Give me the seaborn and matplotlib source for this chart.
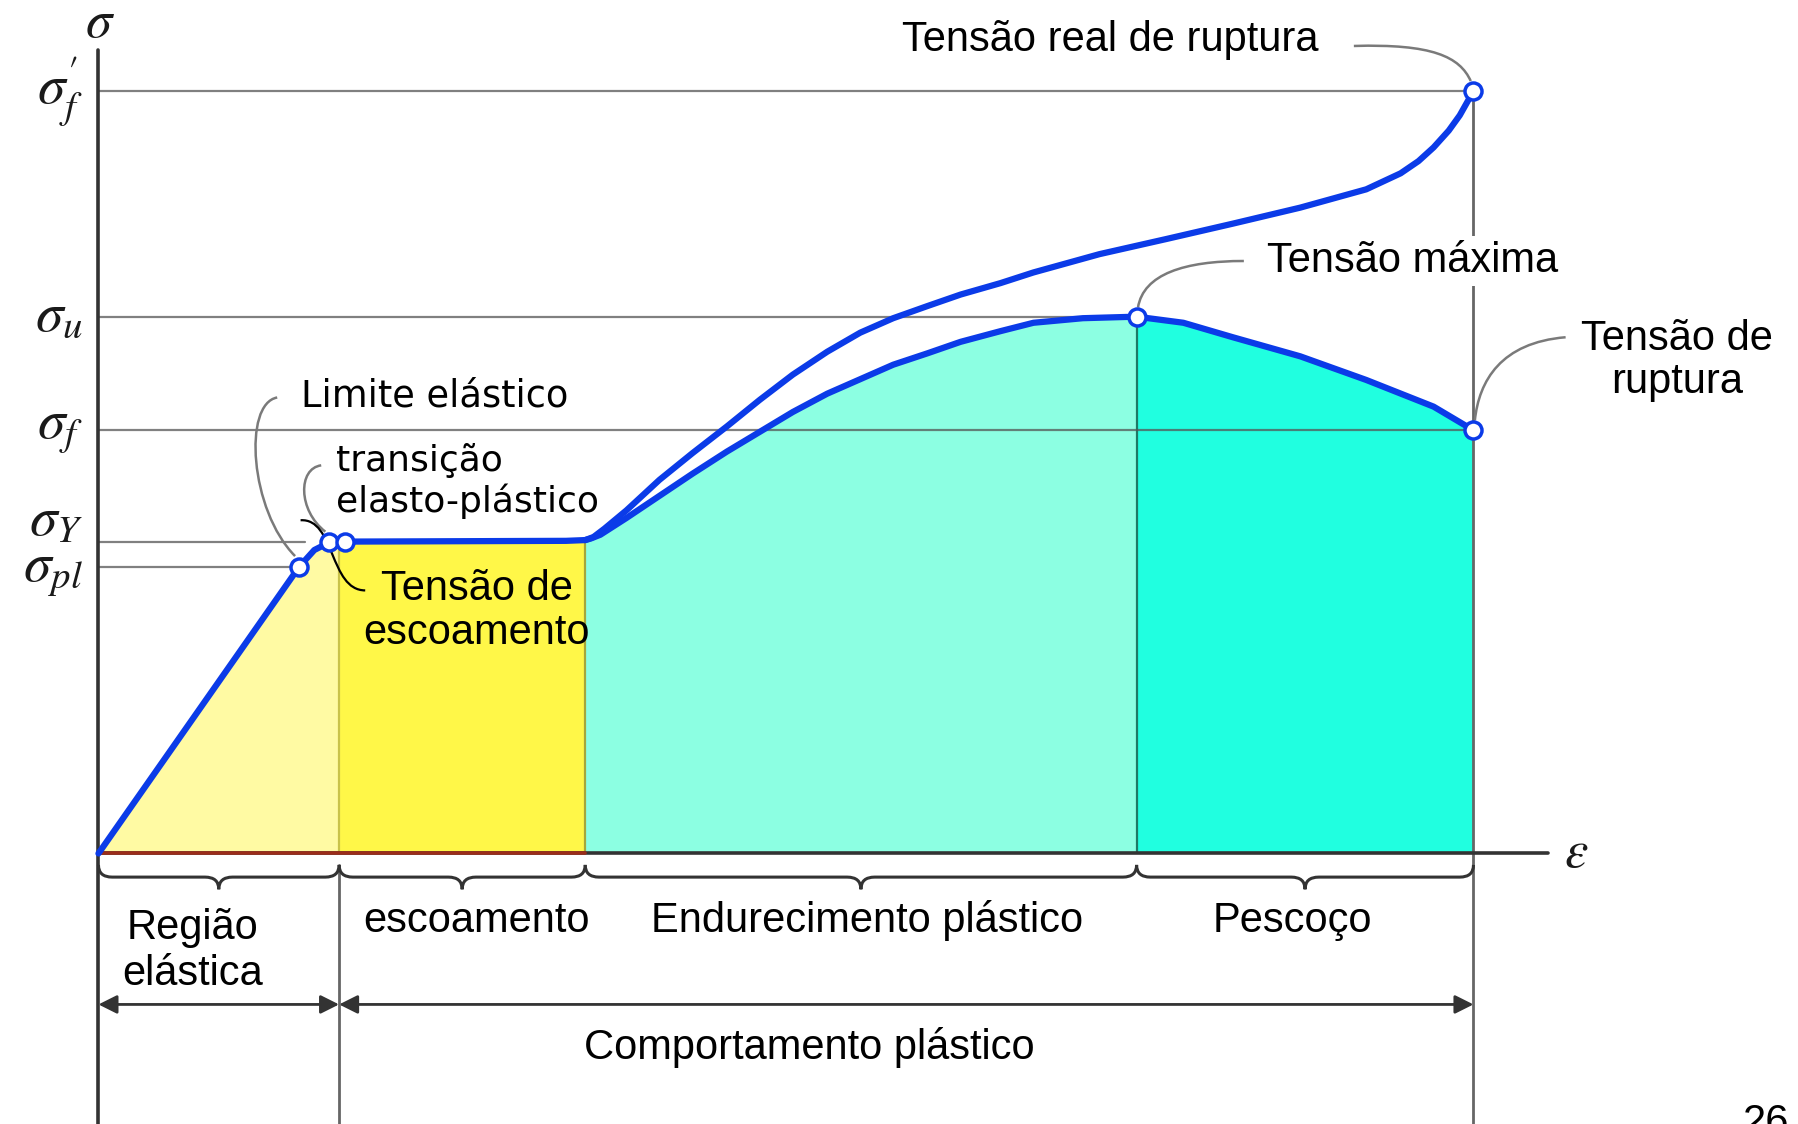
import matplotlib
matplotlib.use("Agg")
from matplotlib import pyplot as plt
from matplotlib.path import Path
from matplotlib.patches import PathPatch
import seaborn as sns

# Engineering stress-strain curve (normalized units)
strain_eng = [0.0, 0.146, 0.157, 0.168, 0.175, 0.179, 0.340, 0.354, 0.358, 0.365, 0.384,
              0.408, 0.432, 0.457, 0.481, 0.505, 0.530, 0.554, 0.578, 0.603, 0.627,
              0.656, 0.680, 0.716, 0.755, 0.789, 0.825, 0.874, 0.922, 0.971, 1.0]
stress_eng = [0.0, 0.376, 0.398, 0.408, 0.409, 0.409, 0.410, 0.411, 0.413, 0.418, 0.440,
              0.469, 0.498, 0.527, 0.553, 0.579, 0.603, 0.622, 0.641, 0.656, 0.671,
              0.685, 0.696, 0.702, 0.704, 0.696, 0.677, 0.652, 0.621, 0.586, 0.555]

# True stress-strain curve (leaves the engineering curve at end of the plateau)
strain_true = [0.354, 0.360, 0.368, 0.384, 0.408, 0.432, 0.457, 0.481, 0.505, 0.530, 0.554,
               0.578, 0.603, 0.627, 0.656, 0.680, 0.728, 0.777, 0.825, 0.874, 0.922,
               0.947, 0.960, 0.971, 0.982, 0.990, 0.995, 1.0]
stress_true = [0.411, 0.415, 0.426, 0.450, 0.490, 0.525, 0.560, 0.595, 0.628, 0.658, 0.683,
               0.702, 0.718, 0.733, 0.748, 0.762, 0.786, 0.806, 0.826, 0.847, 0.871,
               0.892, 0.908, 0.926, 0.948, 0.968, 0.984, 1.0]

# Marked points: proportional limit, elasto-plastic transition, yield,
# ultimate, fracture, true fracture
point_strain = [0.146, 0.168, 0.179, 0.755, 1.0, 1.0]
point_stress = [0.376, 0.408, 0.409, 0.704, 0.555, 1.0]

# Characteristic stress levels on the vertical axis
level_names = [r"$\sigma_{f}^{\prime}$", r"$\sigma_u$", r"$\sigma_f$", r"$\sigma_Y$", r"$\sigma_{pl}$"]
level_values = [1.0, 0.704, 0.555, 0.409, 0.376]
level_ends = [1.0, 0.755, 1.0, 0.15, 0.146]

# Regions along the strain axis
region_edges = [0.0, 0.175, 0.354, 0.755, 1.0]
region_names = ["Região\nelástica", "escoamento", "Endurecimento plástico", "Pescoço"]
behaviour_names = ["", "Comportamento plástico"]

sns.set_theme(style="white")
plt.rcParams["font.family"] = ["Liberation Sans", "DejaVu Sans"]
plt.rcParams["mathtext.fontset"] = "stix"
plt.rcParams["text.color"] = "black"

fig = plt.figure(figsize=(17.98, 11.24), dpi=100)
ax = fig.add_axes([0, 0, 1, 1])
ax.set_xlim(-0.0716, 1.236)
ax.set_ylim(-0.3548, 1.1193)
ax.axis("off")

BLUE = "#0b3be8"
GRAY = "#7a7a7a"
region_colors = ["#fffaa3", "#fff748", "#8cffe2", "#20ffe0"]

# coloured areas under the engineering curve
for (a, b), c in zip(zip(region_edges[:-1], region_edges[1:]), region_colors):
    xs = [x for x in strain_eng if a <= x <= b]
    ys = [y for x, y in zip(strain_eng, stress_eng) if a <= x <= b]
    ax.fill_between(xs, 0, ys, color=c, lw=0, zorder=1)

# boundaries inside the coloured areas
edge_cols = ["#c9c24a", "#a6a63a", "#1f7a66"]
for e, c in zip(region_edges[1:-1], edge_cols):
    top = stress_eng[strain_eng.index(e)]
    ax.plot([e, e], [0, top], color=c, lw=1.6, zorder=2)

# reference stress levels
for v, end in zip(level_values, level_ends):
    ax.plot([0, end], [v, v], color="#555555", alpha=0.75, lw=1.6, zorder=2)

labels_dy = [0.0, 0.0, 0.0, 0.026, -0.008]
for name, v, dy in zip(level_names, level_values, labels_dy):
    ax.text(-0.011, v + dy, name, ha="right", va="center", fontsize=40, color="#1a1a1a")

# axes
ax.plot([0, 0], [-0.36, 1.054], color="#333333", lw=2.6, zorder=3)
ax.plot([0, 1.054], [0, 0], color="#333333", lw=2.6, zorder=3)
ax.plot([0, region_edges[2]], [0, 0], color="#9b2d1a", lw=2.6, zorder=3)
ax.text(0.001, 1.089, r"$\sigma$", ha="center", va="center", fontsize=38, color="#1a1a1a")
ax.text(1.075, 0.0, r"$\varepsilon$", ha="center", va="center", fontsize=38, color="#1a1a1a")

# extra verticals below the axis
ax.plot([region_edges[1]] * 2, [-0.015, -0.36], color="#666666", lw=2, zorder=3)
ax.plot([1.0, 1.0], [1.0, -0.36], color="#666666", lw=2, zorder=2)

# curves
sns.lineplot(x=strain_eng, y=stress_eng, sort=False, estimator=None, color=BLUE,
             lw=4.5, ax=ax, zorder=4)
sns.lineplot(x=strain_true, y=stress_true, sort=False, estimator=None, color=BLUE,
             lw=4.5, ax=ax, zorder=4)
sns.scatterplot(x=point_strain, y=point_stress, s=150, color="white", edgecolor=BLUE,
                linewidth=2.5, ax=ax, zorder=5)


def curve(pts, color=GRAY, lw=1.8):
    codes = [Path.MOVETO, Path.CURVE4, Path.CURVE4, Path.CURVE4]
    ax.add_patch(PathPatch(Path(pts, codes), fill=False, ec=color, lw=lw, zorder=3))


def brace(a, b, y0=-0.015, yb=-0.031, yt=-0.047, dx=0.01):
    m = (a + b) / 2
    verts = [(a, y0), (a, yb), (a + dx, yb), (m - dx, yb), (m, yb), (m, yt),
             (m, yb), (m + dx, yb), (b - dx, yb), (b, yb), (b, y0)]
    codes = [Path.MOVETO, Path.CURVE3, Path.CURVE3, Path.LINETO, Path.CURVE3, Path.CURVE3,
             Path.CURVE3, Path.CURVE3, Path.LINETO, Path.CURVE3, Path.CURVE3]
    ax.add_patch(PathPatch(Path(verts, codes), fill=False, ec="#333333", lw=2.2, zorder=3))


for a, b in zip(region_edges[:-1], region_edges[1:]):
    brace(a, b)

# region labels
region_x = [0.0685, 0.275, 0.559, 0.868]
region_y = [-0.128, -0.088, -0.088, -0.088]
for name, x, y in zip(region_names, region_x, region_y):
    ax.text(x, y, name, ha="center", va="center", fontsize=30, color="black")

# elastic / plastic behaviour arrows
arrow_kw = dict(arrowstyle="<|-|>", color="#333333", lw=2, mutation_scale=28,
                shrinkA=0, shrinkB=0)
ax.annotate("", xy=(region_edges[0], -0.198), xytext=(region_edges[1], -0.198),
            arrowprops=arrow_kw)
ax.annotate("", xy=(region_edges[1], -0.198), xytext=(region_edges[-1], -0.198),
            arrowprops=arrow_kw)
ax.text(0.517, -0.254, behaviour_names[1], ha="center", va="center", fontsize=30)

# annotations
ax.text(0.736, 1.067, "Tensão real de ruptura", ha="center", va="center", fontsize=30)
curve([(0.913, 1.059), (0.97, 1.062), (0.99, 1.045), (0.998, 1.013)])

ax.text(0.956, 0.777, "Tensão máxima", ha="center", va="center", fontsize=30,
        bbox=dict(fc="white", ec="none", pad=4), zorder=4)
curve([(0.833, 0.777), (0.79, 0.777), (0.76, 0.76), (0.756, 0.716)])

ax.text(1.148, 0.646, "Tensão de\nruptura", ha="center", va="center", fontsize=30,
        linespacing=1.1)
curve([(1.067, 0.677), (1.02, 0.67), (1.004, 0.62), (1.001, 0.568)])

ax.text(0.2445, 0.6005, "Limite elástico", ha="center", va="center", fontsize=26.5,
        family=["DejaVu Sans"])
curve([(0.13, 0.598), (0.105, 0.59), (0.11, 0.45), (0.143, 0.39)])

ax.text(0.173, 0.489, "transição\nelasto-plástico", ha="left", va="center", fontsize=26,
        family=["DejaVu Sans"], linespacing=1.2)
curve([(0.162, 0.509), (0.145, 0.505), (0.145, 0.45), (0.165, 0.422)])

ax.text(0.275, 0.318, "Tensão de\nescoamento", ha="center", va="center", fontsize=30,
        linespacing=1.1, zorder=6)
curve([(0.194, 0.345), (0.168, 0.345), (0.172, 0.44), (0.147, 0.437)], color="black", lw=1.6)

# page number, partly cut by the bottom edge as in the slide
ax.text(1.213, -0.327, "26", ha="center", va="top", fontsize=30)

fig.savefig("out.png", dpi=100)
